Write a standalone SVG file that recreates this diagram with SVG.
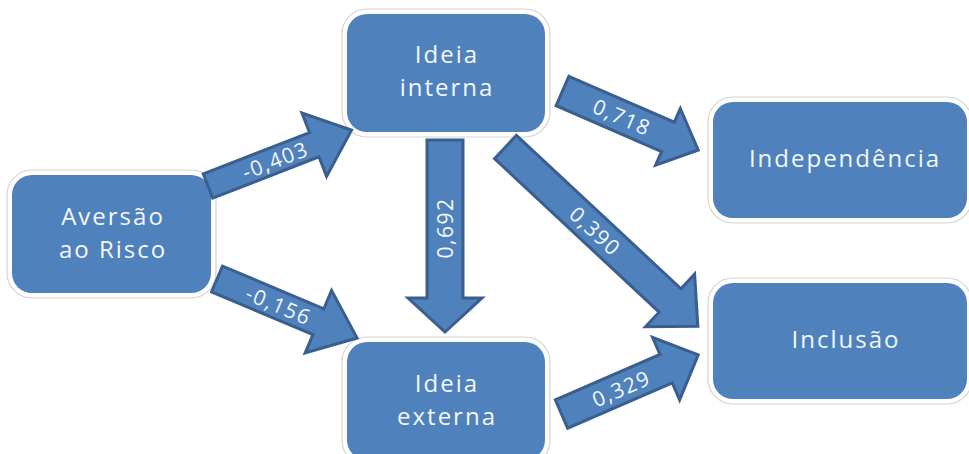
<svg xmlns="http://www.w3.org/2000/svg" width="969" height="454" viewBox="0 0 969 454">
<style>
.ring{fill:#ffffff;stroke:#d4d4d4;stroke-width:1.2}
.box{fill:#4f81bd}
.nt{font-family:"Open Sans","Liberation Sans",sans-serif;font-size:24px;fill:#f4f7fb;text-anchor:middle;letter-spacing:2px}
.arr{fill:#4f81bd;stroke:#3a5f8e;stroke-width:3;stroke-linejoin:miter}
.at{font-family:"Open Sans","Liberation Sans",sans-serif;font-size:21px;fill:#f4f7fb;text-anchor:middle;letter-spacing:1.5px}
</style>
<rect width="969" height="454" fill="#ffffff"/>
<g id="node-aversao">
<rect class="ring" x="7" y="170" width="209" height="128" rx="25"/>
<rect class="box" x="12" y="175" width="199" height="118" rx="20"/>
<text class="nt" x="113" y="225">Aversão</text>
<text class="nt" x="113" y="258">ao Risco</text>
</g>
<g id="node-ideia-interna">
<rect class="ring" x="342" y="9" width="208" height="128" rx="25"/>
<rect class="box" x="347" y="14" width="198" height="118" rx="20"/>
<text class="nt" x="447" y="63">Ideia</text>
<text class="nt" x="447" y="96">interna</text>
</g>
<g id="node-ideia-externa">
<rect class="ring" x="342" y="337" width="208" height="128" rx="25"/>
<rect class="box" x="347" y="342" width="198" height="118" rx="20"/>
<text class="nt" x="447" y="392">Ideia</text>
<text class="nt" x="447" y="425">externa</text>
</g>
<g id="node-independencia">
<rect class="ring" x="708" y="97" width="264" height="126" rx="25"/>
<rect class="box" x="713" y="102" width="254" height="116" rx="20"/>
<text class="nt" x="845" y="167">Independência</text>
</g>
<g id="node-inclusao">
<rect class="ring" x="708" y="278" width="264" height="126" rx="25"/>
<rect class="box" x="713" y="283" width="254" height="116" rx="20"/>
<text class="nt" x="846" y="348">Inclusão</text>
</g>
<g id="connectors">
<g transform="translate(208,186) rotate(-21.25)">
<path class="arr" d="M0,-13 L114,-13 L114,-34 L154,0 L114,34 L114,13 L0,13 Z"/>
<text class="at" x="72" y="8">-0,403</text>
</g>
<g transform="translate(217,279) rotate(22.85)">
<path class="arr" d="M0,-14 L110,-14 L110,-34 L152,0 L110,34 L110,14 L0,14 Z"/>
<text class="at" x="67" y="8">-0,156</text>
</g>
<g>
<path class="arr" d="M427,140 L463,140 L463,298 L482,298 L445,332 L408,298 L427,298 Z"/>
<text class="at" transform="rotate(-90 445 228)" x="445" y="236">0,692</text>
</g>
<g transform="translate(505.5,147) rotate(43)">
<path class="arr" d="M0,-16 L225,-16 L225,-36 L263,0 L225,36 L225,16 L0,16 Z"/>
<text class="at" x="123" y="8">0,390</text>
</g>
<g transform="translate(562.5,91) rotate(23.5)">
<path class="arr" d="M0,-16 L115,-16 L115,-31 L148,0 L115,31 L115,16 L0,16 Z"/>
<text class="at" x="65" y="8">0,718</text>
</g>
<g transform="translate(561.5,414) rotate(-23.4)">
<path class="arr" d="M0,-15.5 L114,-15.5 L114,-34 L149,0 L114,34 L114,15.5 L0,15.5 Z"/>
<text class="at" x="65" y="8">0,329</text>
</g>
</g>
</svg>
